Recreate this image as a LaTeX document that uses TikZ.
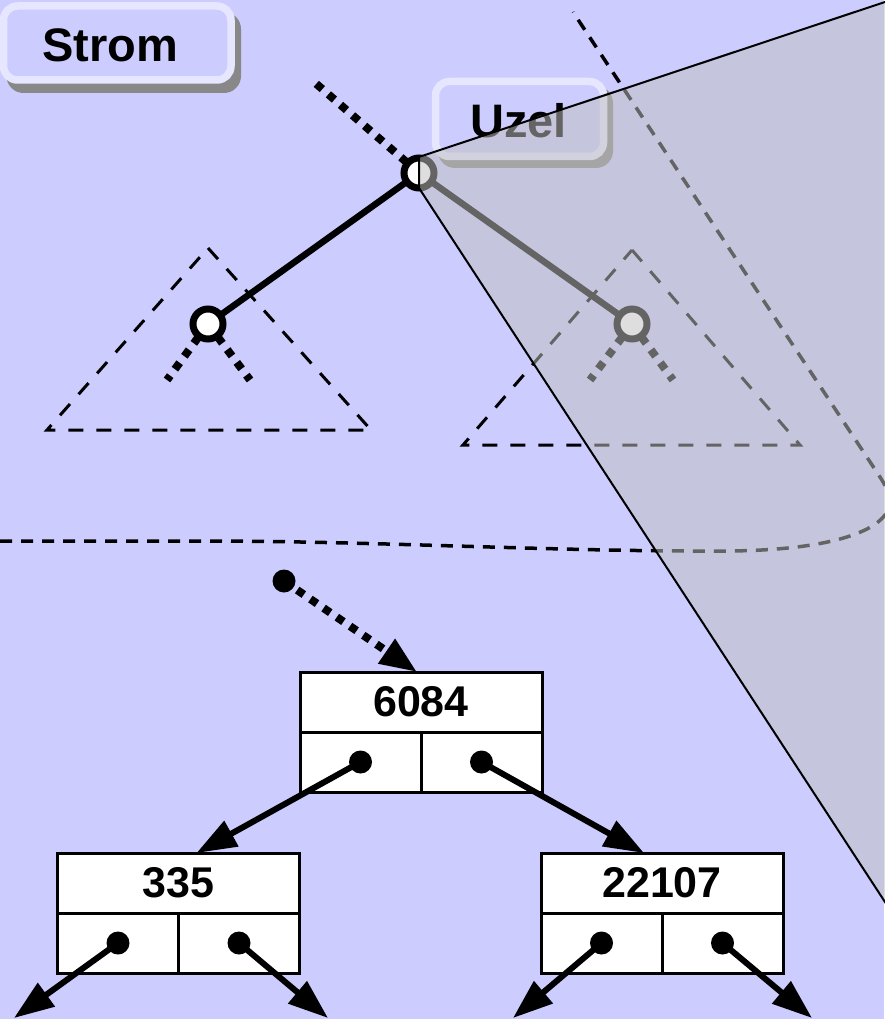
\documentclass[tikz,border=0pt]{standalone}
\usepackage{fontspec}
\setmainfont{Liberation Sans}
\usetikzlibrary{arrows.meta,calc}
\definecolor{bgc}{RGB}{204,204,255}
\definecolor{rimc}{RGB}{230,230,255}
\definecolor{shadc}{RGB}{136,136,136}
\definecolor{ovc}{RGB}{192,192,192}
\tikzset{
  rimbox/.style={draw=rimc, line width=7.5pt, fill=bgc, rounded corners=14pt},
  shadowbox/.style={fill=shadc, rounded corners=17pt},
  boxlabel/.style={font=\fontsize{47}{56}\selectfont\bfseries, inner sep=0pt, anchor=base},
  tri/.style={draw=black, line width=3pt, dash pattern=on 15pt off 13pt},
  bigdash/.style={draw=black, line width=3.5pt, dash pattern=on 12pt off 9pt},
  treeedge/.style={draw=black, line width=6.5pt},
  ringnode/.style={circle, draw=black, fill=white, line width=7pt, minimum size=30pt, inner sep=0pt, outer sep=0pt},
  dotline/.style={draw=black, line width=8pt, dash pattern=on 8pt off 8pt},
  keybox/.style={draw=black, line width=3pt, fill=white, minimum width=242pt, minimum height=60pt, inner sep=0pt, outer sep=0pt, font=\fontsize{43}{51}\selectfont\bfseries},
  cellbox/.style={draw=black, line width=3pt, fill=white, minimum width=121pt, minimum height=60pt, inner sep=0pt, outer sep=0pt},
  ptr/.style={circle, fill=black, minimum size=23pt, inner sep=0pt, outer sep=0pt},
  ptrarrow/.style={draw=black, line width=6pt, -{Triangle[length=40pt,width=28pt]}},
  overlay/.style={fill=ovc, fill opacity=0.52, draw=black, line width=2pt, line join=miter}
}
\begin{document}
\begin{tikzpicture}[x=1pt,y=-1pt]
\useasboundingbox (0,0) rectangle (884,1019);
\fill[bgc] (0,0) rectangle (884,1019);

% Strom box
\fill[shadowbox] (6.5,12) rectangle (241,93);
\draw[rimbox] (3.5,6) rectangle (231,80);
\node[boxlabel] (strom) at (110.5,62) {Strom};

% Uzel box
\fill[shadowbox] (438,86) rectangle (613,168);
\draw[rimbox] (435.5,81.5) rectangle (603.5,156.5);
\node[boxlabel] (uzel) at (518.5,138) {Uzel};

% subtrees
\draw[tri] (208,248) -- (371,430) -- (47,430) -- cycle;
\draw[tri] (632,250) -- (800,445) -- (463,445) -- cycle;

% big dashed boundary
\draw[bigdash] (0,541) -- (200,541)
  .. controls (380,541) and (560,552) .. (730,551)
  .. controls (820,550) and (870,535) .. (885,515)
  .. controls (894,503) and (889,491) .. (880,477)
  -- (573,12);

% abstract tree
\coordinate (rootc) at (419,173);
\coordinate (lcc) at (208,324);
\coordinate (rcc) at (632,324);
\coordinate (rootup) at (313,81);
\coordinate (lcl) at (167,380);
\coordinate (lcr) at (250,380);
\coordinate (rcl) at (590,380);
\coordinate (rcr) at (673,380);
\draw[treeedge] (rootc) -- (lcc);
\draw[treeedge] (rootc) -- (rcc);
\draw[dotline] (rootc) -- (rootup);
\draw[dotline] (lcc) -- (lcl);
\draw[dotline] (lcc) -- (lcr);
\draw[dotline] (rcc) -- (rcl);
\draw[dotline] (rcc) -- (rcr);
\node[ringnode] (root) at (rootc) {};
\node[ringnode] (lc) at (lcc) {};
\node[ringnode] (rc) at (rcc) {};

% translucent wedge
\path[overlay] (419,157) -- (900,-3) -- (900,925) -- (419,188) -- cycle;

% concrete tree
\node[keybox] (n1) at (421,702) {6084};
\node[cellbox, anchor=north west] (n1a) at (n1.south west) {};
\node[cellbox, anchor=north east] (n1b) at (n1.south east) {};
\node[keybox] (n2) at (178.5,883) {335};
\node[cellbox, anchor=north west] (n2a) at (n2.south west) {};
\node[cellbox, anchor=north east] (n2b) at (n2.south east) {};
\node[keybox] (n3) at (662,883) {22107};
\node[cellbox, anchor=north west] (n3a) at (n3.south west) {};
\node[cellbox, anchor=north east] (n3b) at (n3.south east) {};

\node[ptr] (d1a) at (n1a.center) {};
\node[ptr] (d1b) at (n1b.center) {};
\node[ptr] (d2a) at (n2a.center) {};
\node[ptr] (d2b) at (n2b.center) {};
\node[ptr] (d3a) at (n3a.center) {};
\node[ptr] (d3b) at (n3b.center) {};
\node[ptr] (d0) at (284,581) {};

\coordinate (e2a) at (14,1018);
\coordinate (e2b) at (328,1018);
\coordinate (e3a) at (513,1018);
\coordinate (e3b) at (812,1018);

\draw[dotline, -{Triangle[length=37pt,width=28pt]}] (d0.center) -- ($(n1.north)+(-4,0)$);
\draw[ptrarrow] (d1a.center) -- ($(n2.north)+(18,0)$);
\draw[ptrarrow] (d1b.center) -- ($(n3.north)+(-18,0)$);
\draw[ptrarrow] (d2a.center) -- (e2a);
\draw[ptrarrow] (d2b.center) -- (e2b);
\draw[ptrarrow] (d3a.center) -- (e3a);
\draw[ptrarrow] (d3b.center) -- (e3b);
\end{tikzpicture}
\end{document}
